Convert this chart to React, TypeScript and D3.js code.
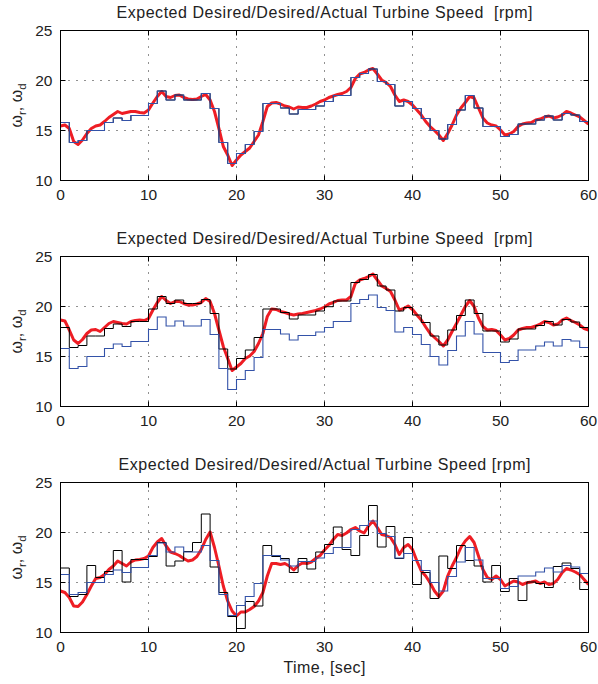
import React from 'react';
import * as d3 from 'd3';

// time grid (seconds): steps hold for one second, actual speed sampled every 0.5 s
const secs = d3.range(0, 61);
const halfSecs = d3.range(0, 120.5).map((i) => i / 2);

// desired turbine speed (same in all three panels)
const desired = [
  15.8, 13.8, 14.0, 15.0, 15.0, 15.8, 16.25, 16.0, 16.5, 16.5,
  17.7, 18.95, 18.05, 18.55, 18.05, 18.05, 18.7, 17.2, 13.8, 11.7,
  12.7, 13.6, 14.9, 17.7, 17.7, 17.25, 16.65, 17.1, 17.1, 17.45,
  17.9, 18.5, 18.5, 20.3, 20.7, 21.15, 19.9, 19.6, 17.45, 17.9,
  17.2, 16.2, 15.0, 14.15, 15.6, 17.05, 18.5, 17.25, 15.4, 15.4,
  14.4, 14.6, 15.65, 15.65, 16.05, 16.45, 16.05, 16.7, 16.55, 15.9,
];

// expected desired speed, panel 2 (offset) and panel 3 (noisy estimate)
const expected2 = [
  17.9, 15.9, 16.1, 17.05, 17.05, 17.8, 18.25, 18.0, 18.5, 18.5,
  19.75, 21.0, 20.3, 20.65, 20.3, 20.3, 20.7, 19.3, 15.75, 13.75,
  14.8, 15.65, 16.9, 19.75, 19.75, 19.4, 18.75, 19.15, 19.15, 19.55,
  19.98, 20.55, 20.55, 22.4, 22.7, 23.2, 22.05, 21.65, 19.55, 19.9,
  19.15, 18.4, 17.05, 16.15, 17.65, 19.1, 20.65, 19.3, 17.55, 17.55,
  16.45, 16.75, 17.75, 17.75, 18.1, 18.5, 18.15, 18.7, 18.45, 17.9,
];
const expected3 = [
  16.45, 13.6, 13.8, 16.7, 15.5, 16.1, 18.2, 15.05, 17.3, 17.3,
  17.6, 19.0, 16.65, 17.15, 18.1, 19.0, 21.85, 16.55, 14.0, 11.6,
  10.4, 13.1, 12.65, 18.7, 17.6, 17.4, 16.0, 17.4, 16.35, 18.05,
  18.8, 20.55, 18.3, 17.7, 19.7, 22.7, 18.55, 20.6, 17.4, 19.5,
  14.8, 16.0, 13.4, 17.65, 16.4, 18.7, 17.2, 16.65, 15.05, 16.7,
  14.1, 15.4, 13.2, 15.05, 14.9, 14.5, 16.6, 16.95, 16.4, 14.3,
];

// actual turbine speed
const actual1 = [
  15.45, 15.55, 15.2, 13.9, 13.6, 14.05, 14.7, 15.2, 15.45, 15.55,
  15.9, 16.3, 16.6, 16.9, 16.7, 16.8, 16.9, 16.9, 16.8, 16.75,
  17.05, 17.75, 18.4, 18.9, 18.4, 18.3, 18.5, 18.55, 18.3, 18.15,
  18.1, 18.15, 18.4, 18.6, 18.05, 16.9, 15.2, 13.4, 12.55, 11.5,
  12.05, 12.55, 12.9, 13.25, 13.9, 14.55, 15.9, 17.4, 17.75, 17.8,
  17.65, 17.45, 17.35, 17.15, 17.35, 17.3, 17.3, 17.45, 17.65, 17.9,
  18.05, 18.3, 18.45, 18.6, 18.7, 18.9, 19.3, 20.2, 20.65, 20.8,
  21.05, 21.2, 20.65, 20.05, 19.8, 19.4, 18.55, 17.9, 18.05, 17.9,
  17.55, 17.05, 16.55, 15.9, 15.4, 15.0, 14.55, 14.0, 14.7, 15.55,
  16.55, 17.25, 17.8, 18.4, 18.25, 17.25, 16.25, 15.75, 15.55, 15.45,
  15.05, 14.55, 14.65, 14.9, 15.4, 15.65, 15.75, 15.8, 16.05, 16.15,
  16.35, 16.45, 16.25, 16.35, 16.55, 16.9, 16.75, 16.55, 16.35, 16.0,
  15.65,
];
const actual2 = [
  18.65, 18.55, 17.65, 16.65, 16.3, 16.7, 17.3, 17.65, 17.7, 17.5,
  17.9, 18.3, 18.5, 18.4, 18.3, 18.25, 18.5, 18.6, 18.65, 18.6,
  18.8, 19.65, 20.4, 21.0, 20.6, 20.3, 20.5, 20.5, 20.3, 20.15,
  20.15, 20.25, 20.4, 20.8, 20.5, 19.3, 17.65, 16.0, 14.8, 13.6,
  13.95, 14.3, 14.8, 15.05, 15.5, 16.3, 17.3, 19.0, 19.75, 19.7,
  19.5, 19.4, 19.25, 19.15, 19.25, 19.3, 19.4, 19.5, 19.6, 19.75,
  19.95, 20.25, 20.4, 20.6, 20.65, 20.65, 21.0, 22.3, 22.65, 22.8,
  23.0, 23.25, 22.65, 22.05, 21.8, 21.5, 20.65, 19.65, 19.8, 20.05,
  19.7, 19.15, 18.65, 17.95, 17.3, 16.9, 16.5, 16.05, 16.65, 17.5,
  18.3, 19.15, 20.0, 20.6, 20.0, 18.85, 18.0, 17.65, 17.7, 17.6,
  17.15, 16.65, 16.8, 17.15, 17.65, 17.8, 17.9, 17.9, 18.05, 18.25,
  18.5, 18.4, 18.15, 18.25, 18.65, 18.85, 18.6, 18.4, 18.15, 17.8,
  17.65,
];
const actual3 = [
  14.15, 14.0, 13.5, 12.65, 12.6, 13.05, 13.8, 14.65, 15.4, 15.5,
  15.8, 16.3, 16.65, 17.15, 16.9, 16.65, 17.05, 17.25, 17.3, 17.4,
  17.65, 18.5, 19.05, 19.4, 18.65, 18.05, 17.9, 17.7, 17.4, 17.15,
  17.25, 17.6, 18.3, 19.3, 20.05, 18.5, 16.65, 14.65, 13.15, 12.15,
  11.65, 12.05, 12.05, 12.3, 12.6, 13.15, 14.0, 15.65, 16.9, 16.9,
  16.8, 16.9, 16.65, 16.25, 16.7, 16.95, 16.9, 17.05, 17.4, 17.7,
  18.25, 18.7, 19.3, 19.8, 19.7, 19.95, 20.3, 20.5, 20.15, 19.95,
  20.65, 21.15, 20.5, 19.8, 19.7, 19.5, 18.8, 17.8, 18.5, 18.8,
  18.3, 17.15, 16.15, 15.65, 14.98, 14.15, 13.6, 14.15, 15.65, 16.65,
  17.5, 18.5, 19.15, 19.6, 19.0, 17.65, 16.3, 15.5, 15.3, 15.65,
  15.3, 14.65, 14.9, 15.15, 15.05, 14.8, 14.98, 15.05, 15.15, 14.9,
  15.05, 14.8, 14.9, 15.3, 15.98, 16.4, 16.25, 16.05, 15.8, 15.3,
  14.8,
];

const xTicks = [0, 10, 20, 30, 40, 50, 60];
const yTicks = [10, 15, 20, 25];
const titles = [
  'Expected Desired/Desired/Actual Turbine Speed  [rpm]',
  'Expected Desired/Desired/Actual Turbine Speed  [rpm]',
  'Expected Desired/Desired/Actual Turbine Speed [rpm]',
];

const FONT = '"Liberation Sans", Arial, Helvetica, sans-serif';
const RED = '#ee1d24';
const BLUE = '#3352a8';

function Panel({ top, title, titleWidth, black, blue, red, xLabel }) {
  const x = d3.scaleLinear().domain([0, 60]).range([60.5, 588.5]);
  const y = d3.scaleLinear().domain([10, 25]).range([top + 150, top]);
  const [x0, x1] = x.range();
  const [y0, y1] = y.range();

  const step = d3.line().x((d, i) => x(secs[i])).y((d) => y(d)).curve(d3.curveStepAfter);
  const smooth = d3.line().x((d, i) => x(halfSecs[i])).y((d) => y(d));
  const held = (arr) => [...arr, arr[arr.length - 1]];

  return (
    <g>
      <text x={(x0 + x1) / 2} y={top - 13} textAnchor="middle" fontSize={16} fill="#222"
        textLength={titleWidth} lengthAdjust="spacing" style={{ whiteSpace: 'pre' }}>{title}</text>

      {/* dotted grid */}
      {xTicks.slice(1, -1).map((t) => (
        <line key={'gx' + t} x1={x(t)} x2={x(t)} y1={y1} y2={y0} stroke="#222" strokeDasharray="1,7" />
      ))}
      {yTicks.slice(1, -1).map((t) => (
        <line key={'gy' + t} x1={x0} x2={x1} y1={y(t)} y2={y(t)} stroke="#222" strokeDasharray="1,7" />
      ))}

      <clipPath id={'clip' + top}>
        <rect x={x0} y={y1} width={x1 - x0} height={y0 - y1} />
      </clipPath>
      <g clipPath={`url(#clip${top})`} fill="none">
        <path d={smooth(red)} stroke={RED} strokeWidth={3} strokeLinejoin="round" />
        <path d={step(held(black))} stroke="#000" strokeWidth={1} />
        <path d={step(held(blue))} stroke={BLUE} strokeWidth={1.1} />
      </g>

      {/* box and inner ticks */}
      <rect x={x0} y={y1} width={x1 - x0} height={y0 - y1} fill="none" stroke="#000" strokeWidth={1} />
      {xTicks.map((t) => (
        <g key={'tx' + t}>
          <line x1={x(t)} x2={x(t)} y1={y0} y2={y0 - 5} stroke="#000" />
          <line x1={x(t)} x2={x(t)} y1={y1} y2={y1 + 5} stroke="#000" />
          <text x={x(t)} y={y0 + 19} textAnchor="middle" fontSize={15.5} fill="#222">{t}</text>
        </g>
      ))}
      {yTicks.map((t) => (
        <g key={'ty' + t}>
          <line x1={x0} x2={x0 + 5} y1={y(t)} y2={y(t)} stroke="#000" />
          <line x1={x1} x2={x1 - 5} y1={y(t)} y2={y(t)} stroke="#000" />
          <text x={x0 - 8} y={y(t) + 5.5} textAnchor="end" fontSize={15.5} fill="#222">{t}</text>
        </g>
      ))}

      <text transform={`translate(22,${(y0 + y1) / 2}) rotate(-90)`} textAnchor="middle" fontSize={16} fill="#222">
        ω<tspan fontSize={11.5} dy={4}>r</tspan><tspan dy={-4}>, ω</tspan><tspan fontSize={11.5} dy={4}>d</tspan>
      </text>
      {xLabel && (
        <text x={(x0 + x1) / 2} y={y0 + 40} textAnchor="middle" fontSize={16} fill="#222"
          textLength={82} lengthAdjust="spacing">{xLabel}</text>
      )}
    </g>
  );
}

export default function App() {
  return (
    <svg width={598} height={684} style={{ position: 'absolute', left: 0, top: 0, background: '#fff' }}
      fontFamily={FONT}>
      <Panel top={30.5} title={titles[0]} titleWidth={416} black={desired} blue={desired} red={actual1} />
      <Panel top={256.5} title={titles[1]} titleWidth={416} black={expected2} blue={desired} red={actual2} />
      <Panel top={482.5} title={titles[2]} titleWidth={412} black={expected3} blue={desired} red={actual3}
        xLabel="Time, [sec]" />
    </svg>
  );
}
